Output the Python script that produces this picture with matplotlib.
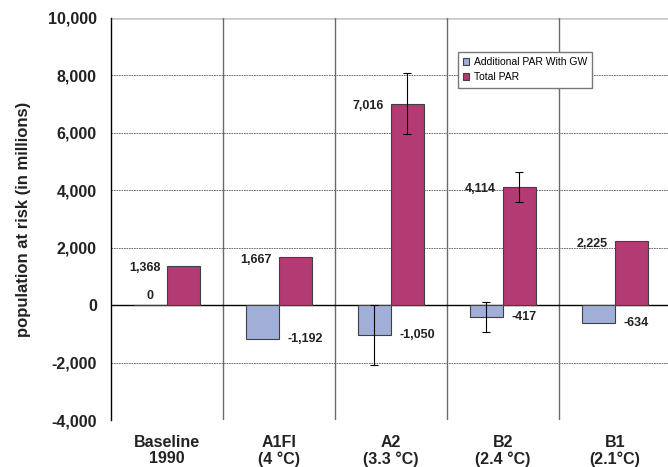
import numpy as np
import matplotlib
matplotlib.use("Agg")
import matplotlib.pyplot as plt

plt.rcParams['font.family'] = ['Liberation Sans', 'DejaVu Sans']

categories = ['Baseline\n1990', 'A1FI\n(4 \u00b0C)', 'A2\n(3.3 \u00b0C)', 'B2\n(2.4 \u00b0C)', 'B1\n(2.1\u00b0C)']
additional_par = [0, -1192, -1050, -417, -634]
total_par = [1368, 1667, 7016, 4114, 2225]
additional_err = [0, 0, 1040, 515, 0]
total_err = [0, 0, 1050, 520, 0]
yticks = [-4000, -2000, 0, 2000, 4000, 6000, 8000, 10000]

blue = '#A0AED8'
red = '#B33A73'

fig = plt.figure(figsize=(6.68, 4.67), dpi=100)
ax = fig.add_axes([0.166, 0.1006, 0.838, 0.861])

x = np.arange(len(categories))
w = 0.295

ax.bar(x - w / 2, additional_par, w, color=blue, edgecolor='#404040', linewidth=0.8,
       label='Additional PAR With GW', zorder=3)
ax.bar(x + w / 2, total_par, w, color=red, edgecolor='#404040', linewidth=0.8,
       label='Total PAR', zorder=3)

# error bars only where given
ae = np.array(additional_err)
te = np.array(total_err)
m = ae > 0
ax.errorbar(x[m] - w / 2, np.array(additional_par)[m], yerr=ae[m], fmt='none',
            ecolor='black', elinewidth=0.8, capsize=3, capthick=0.8, zorder=4)
m = te > 0
ax.errorbar(x[m] + w / 2, np.array(total_par)[m], yerr=te[m], fmt='none',
            ecolor='black', elinewidth=0.8, capsize=3, capthick=0.8, zorder=4)

# value labels
for i, v in enumerate(total_par):
    ax.text(x[i] - 0.06, v - 80, f'{v:,}', ha='right', va='center',
            fontsize=9, fontweight='bold', color='#222222', zorder=5)
for i, v in enumerate(additional_par):
    if v == 0:
        ax.text(x[i] - w / 2, 120, f'{v:,}', ha='center', va='bottom',
                fontsize=9, fontweight='bold', color='#222222', zorder=5)
    else:
        ax.text(x[i] + 0.08, v, f'{v:,}', ha='left', va='center',
                fontsize=9, fontweight='bold', color='#222222', zorder=5)

ax.set_xlim(-0.5, 4.5)
ax.set_ylim(-4000, 10000)
ax.set_yticks(yticks)
ax.set_yticklabels([f'{t:,}' for t in yticks], fontsize=11.5, fontweight='bold', color='#222222')
ax.set_xticks(x)
ax.set_xticklabels(categories, fontsize=11.5, fontweight='bold', color='#222222', linespacing=1.1)
ax.tick_params(axis='x', length=0, pad=11)
ax.tick_params(axis='y', length=0, pad=10)

for t in yticks:
    if t == 0:
        ax.axhline(0, color='black', linewidth=1.0, zorder=2)
    elif t == 10000:
        ax.axhline(t, color='#cccccc', linewidth=2.0, zorder=1)
    else:
        ax.axhline(t, color='#555555', linewidth=0.6, linestyle=(0, (2, 1)), zorder=1)

for s in x[:-1] + 0.5:
    ax.axvline(s, color='#6a6a6a', linewidth=1.0, zorder=1)

for side in ['top', 'right', 'bottom']:
    ax.spines[side].set_visible(False)
ax.spines['left'].set_color('black')
ax.spines['left'].set_linewidth(1.0)

ax.set_ylabel('population at risk (in millions)', fontsize=12, fontweight='bold',
              color='#222222', labelpad=12)

leg = ax.legend(loc='upper left', bbox_to_anchor=(458 / 668, 1 - 52 / 467),
                bbox_transform=fig.transFigure, fontsize=7.5, frameon=True, fancybox=False,
                framealpha=1, edgecolor='#777777', handlelength=0.6, handleheight=0.6,
                handletextpad=0.4, borderpad=0.5, labelspacing=0.5, borderaxespad=0)
leg.get_frame().set_linewidth(1.0)
leg.set_zorder(6)

fig.savefig('out.png', dpi=100)
